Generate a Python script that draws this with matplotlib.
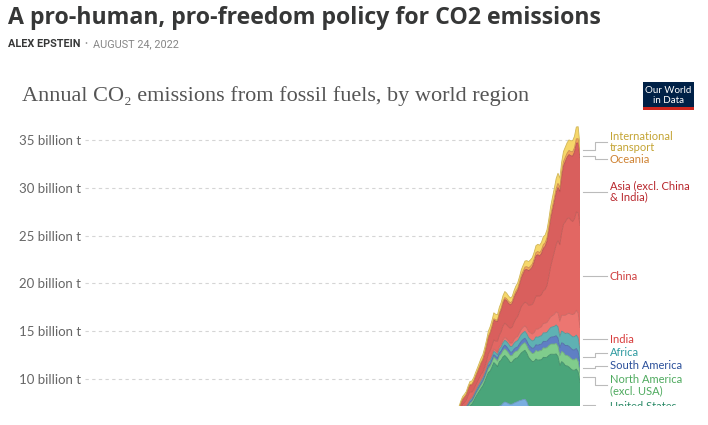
import matplotlib
matplotlib.use("Agg")
import matplotlib.pyplot as plt
import matplotlib.transforms as mtransforms
from matplotlib.patches import Rectangle
from matplotlib.colors import to_rgb

# ---------------- data (billion tonnes CO2, 1950-2020) ----------------
years = list(range(1950, 2021))

europe_excl_eu27 = [
    1.20, 1.28, 1.30, 1.33, 1.40, 1.50, 1.58, 1.64, 1.70, 1.78,
    1.88, 1.95, 2.04, 2.13, 2.22, 2.32, 2.40, 2.48, 2.55, 2.65,
    2.78, 2.87, 2.96, 3.05, 3.10, 3.15, 3.22, 3.28, 3.40, 3.43,
    3.45, 3.50, 3.55, 3.62, 3.68, 3.72, 3.80, 3.88, 3.94, 3.97,
    4.02, 3.82, 3.40, 3.15, 2.85, 2.78, 2.75, 2.62, 2.60, 2.62,
    2.62, 2.65, 2.66, 2.72, 2.73, 2.74, 2.80, 2.80, 2.82, 2.60,
    2.72, 2.78, 2.78, 2.70, 2.66, 2.58, 2.58, 2.58, 2.62, 2.56,
    2.35]
eu27 = [
    1.50, 1.62, 1.65, 1.66, 1.76, 1.90, 2.00, 2.06, 2.05, 2.12,
    2.25, 2.33, 2.46, 2.62, 2.73, 2.80, 2.86, 2.92, 3.10, 3.32,
    3.55, 3.62, 3.74, 3.93, 3.85, 3.73, 3.95, 3.95, 4.05, 4.17,
    4.08, 3.92, 3.80, 3.75, 3.80, 3.85, 3.83, 3.86, 3.84, 3.88,
    3.86, 3.80, 3.68, 3.61, 3.60, 3.65, 3.73, 3.66, 3.67, 3.60,
    3.63, 3.68, 3.67, 3.74, 3.75, 3.72, 3.73, 3.69, 3.61, 3.33,
    3.42, 3.33, 3.26, 3.19, 3.06, 3.10, 3.09, 3.12, 3.04, 2.91,
    2.61]
united_states = [
    2.54, 2.69, 2.65, 2.72, 2.62, 2.85, 2.99, 2.98, 2.90, 3.02,
    3.08, 3.08, 3.18, 3.32, 3.45, 3.58, 3.75, 3.88, 4.05, 4.23,
    4.33, 4.36, 4.55, 4.74, 4.58, 4.41, 4.63, 4.73, 4.86, 4.86,
    4.73, 4.58, 4.37, 4.39, 4.55, 4.59, 4.59, 4.75, 4.95, 5.03,
    5.12, 5.07, 5.17, 5.27, 5.36, 5.42, 5.61, 5.68, 5.73, 5.80,
    6.02, 5.91, 5.95, 6.00, 6.11, 6.13, 6.05, 6.13, 5.91, 5.48,
    5.68, 5.56, 5.36, 5.48, 5.53, 5.38, 5.25, 5.21, 5.38, 5.26,
    4.71]
north_america_excl_usa = [
    0.17, 0.18, 0.19, 0.19, 0.19, 0.21, 0.23, 0.23, 0.23, 0.24,
    0.25, 0.26, 0.27, 0.29, 0.31, 0.33, 0.35, 0.37, 0.40, 0.42,
    0.46, 0.48, 0.52, 0.55, 0.57, 0.58, 0.60, 0.63, 0.66, 0.70,
    0.72, 0.72, 0.71, 0.69, 0.71, 0.73, 0.72, 0.75, 0.79, 0.81,
    0.80, 0.81, 0.82, 0.82, 0.85, 0.86, 0.89, 0.92, 0.95, 0.96,
    0.99, 0.99, 1.00, 1.03, 1.05, 1.07, 1.07, 1.10, 1.09, 1.03,
    1.06, 1.08, 1.09, 1.10, 1.10, 1.10, 1.09, 1.10, 1.12, 1.11,
    1.00]
south_america = [
    0.07, 0.08, 0.08, 0.09, 0.10, 0.10, 0.11, 0.12, 0.13, 0.14,
    0.15, 0.15, 0.16, 0.17, 0.18, 0.18, 0.19, 0.20, 0.21, 0.22,
    0.24, 0.25, 0.26, 0.28, 0.29, 0.30, 0.32, 0.34, 0.36, 0.39,
    0.40, 0.39, 0.38, 0.36, 0.37, 0.39, 0.41, 0.43, 0.44, 0.45,
    0.46, 0.48, 0.49, 0.51, 0.54, 0.57, 0.61, 0.64, 0.66, 0.67,
    0.68, 0.69, 0.68, 0.69, 0.72, 0.75, 0.78, 0.81, 0.85, 0.84,
    0.91, 0.95, 1.00, 1.05, 1.07, 1.06, 1.04, 1.04, 1.03, 1.02,
    0.93]
africa = [
    0.10, 0.10, 0.11, 0.11, 0.12, 0.12, 0.13, 0.13, 0.14, 0.15,
    0.16, 0.17, 0.18, 0.19, 0.20, 0.22, 0.23, 0.24, 0.25, 0.27,
    0.29, 0.31, 0.33, 0.35, 0.36, 0.37, 0.40, 0.43, 0.47, 0.50,
    0.53, 0.56, 0.58, 0.60, 0.62, 0.64, 0.66, 0.67, 0.70, 0.71,
    0.72, 0.74, 0.75, 0.77, 0.78, 0.80, 0.82, 0.84, 0.86, 0.87,
    0.89, 0.91, 0.92, 0.97, 1.02, 1.05, 1.07, 1.12, 1.17, 1.17,
    1.22, 1.20, 1.26, 1.29, 1.32, 1.35, 1.36, 1.38, 1.40, 1.43,
    1.35]
india = [
    0.07, 0.07, 0.07, 0.08, 0.08, 0.08, 0.09, 0.10, 0.10, 0.11,
    0.12, 0.13, 0.14, 0.15, 0.15, 0.17, 0.17, 0.18, 0.19, 0.19,
    0.20, 0.21, 0.22, 0.23, 0.24, 0.26, 0.27, 0.28, 0.29, 0.30,
    0.30, 0.33, 0.35, 0.37, 0.40, 0.43, 0.46, 0.49, 0.53, 0.56,
    0.58, 0.62, 0.66, 0.69, 0.73, 0.77, 0.81, 0.85, 0.88, 0.95,
    0.98, 1.00, 1.03, 1.06, 1.12, 1.18, 1.26, 1.37, 1.47, 1.59,
    1.66, 1.76, 1.91, 1.99, 2.15, 2.21, 2.33, 2.40, 2.59, 2.61,
    2.44]
china = [
    0.08, 0.10, 0.13, 0.13, 0.16, 0.20, 0.23, 0.28, 0.54, 0.73,
    0.78, 0.55, 0.44, 0.44, 0.44, 0.48, 0.53, 0.44, 0.48, 0.58,
    0.77, 0.86, 0.91, 0.95, 0.97, 1.14, 1.18, 1.30, 1.46, 1.49,
    1.47, 1.46, 1.56, 1.64, 1.78, 1.94, 2.06, 2.21, 2.38, 2.42,
    2.48, 2.61, 2.73, 2.91, 3.09, 3.32, 3.46, 3.47, 3.32, 3.36,
    3.41, 3.53, 3.87, 4.50, 5.26, 5.90, 6.53, 7.03, 7.56, 8.00,
    8.62, 9.53, 9.78, 9.96, 9.99, 9.85, 9.73, 9.92, 10.29, 10.49,
    10.67]
asia_excl_china_india = [
    0.33, 0.36, 0.38, 0.40, 0.42, 0.46, 0.50, 0.55, 0.58, 0.63,
    0.70, 0.78, 0.84, 0.91, 0.99, 1.06, 1.14, 1.27, 1.41, 1.54,
    1.72, 1.82, 1.92, 2.08, 2.08, 2.07, 2.18, 2.28, 2.38, 2.48,
    2.50, 2.45, 2.45, 2.48, 2.58, 2.65, 2.72, 2.82, 3.00, 3.18,
    3.38, 3.50, 3.62, 3.76, 3.92, 4.08, 4.22, 4.32, 4.20, 4.30,
    4.45, 4.52, 4.62, 4.78, 4.98, 5.12, 5.25, 5.45, 5.55, 5.55,
    5.90, 6.10, 6.32, 6.45, 6.60, 6.72, 6.85, 7.00, 7.20, 7.30,
    7.10]
oceania = [
    0.04, 0.04, 0.04, 0.04, 0.05, 0.05, 0.05, 0.05, 0.05, 0.06,
    0.06, 0.06, 0.07, 0.07, 0.08, 0.08, 0.09, 0.09, 0.10, 0.11,
    0.11, 0.12, 0.13, 0.14, 0.15, 0.16, 0.17, 0.18, 0.19, 0.21,
    0.22, 0.23, 0.23, 0.23, 0.24, 0.25, 0.25, 0.27, 0.28, 0.29,
    0.30, 0.30, 0.30, 0.31, 0.31, 0.32, 0.33, 0.34, 0.35, 0.37,
    0.38, 0.38, 0.39, 0.39, 0.40, 0.41, 0.42, 0.43, 0.44, 0.44,
    0.44, 0.44, 0.44, 0.43, 0.43, 0.44, 0.45, 0.45, 0.45, 0.45,
    0.42]
international_transport = [
    0.18, 0.19, 0.20, 0.21, 0.22, 0.24, 0.26, 0.27, 0.28, 0.30,
    0.31, 0.33, 0.35, 0.37, 0.39, 0.42, 0.44, 0.47, 0.50, 0.52,
    0.55, 0.57, 0.59, 0.62, 0.58, 0.56, 0.58, 0.60, 0.60, 0.62,
    0.58, 0.55, 0.50, 0.49, 0.50, 0.52, 0.55, 0.56, 0.58, 0.60,
    0.62, 0.63, 0.66, 0.66, 0.67, 0.69, 0.72, 0.75, 0.78, 0.80,
    0.83, 0.80, 0.82, 0.84, 0.90, 0.95, 1.00, 1.04, 1.05, 0.99,
    1.05, 1.07, 1.06, 1.08, 1.10, 1.13, 1.16, 1.20, 1.24, 1.25,
    0.85]

series = [europe_excl_eu27, eu27, united_states, north_america_excl_usa,
          south_america, africa, india, china, asia_excl_china_india,
          oceania, international_transport]
region_labels = ["Europe (excl. EU-27)", "EU-27", "United States",
                 "North America\n(excl. USA)", "South America", "Africa",
                 "India", "China", "Asia (excl. China\n& India)", "Oceania",
                 "International\ntransport"]

y_tick_values = [10, 15, 20, 25, 30, 35]
y_tick_labels = ["10 billion t", "15 billion t", "20 billion t",
                 "25 billion t", "30 billion t", "35 billion t"]

# ---------------- style ----------------
fill_colors = ["#9a86c8", "#7aaee0", "#4aa57a", "#80cc8c", "#5f7fc4",
               "#5fb1b3", "#ec7671", "#e26763", "#d95f5d", "#f0a458",
               "#f6d76a"]
label_colors = ["#6a4fa0", "#3a7bbf", "#2b8a67", "#4eaa5e", "#2a4f9a",
                "#2e9aa0", "#d83c3c", "#cf3f3f", "#b8262c", "#cf8334",
                "#c4a434"]
# label block centres (data units) used for text placement (layout only);
# None = label falls in the cropped-away part of the embed
label_pos = [None, None, 7.12, 9.37, 11.36, 12.72, 14.18, 20.77, 29.61, 33.01, 34.84]

W, H = 708, 425
fig = plt.figure(figsize=(W / 100, H / 100), dpi=100)
fig.patch.set_facecolor("white")

px_per_unit = (379 - 140) / 25.0
y0_px = 379 + 10 * px_per_unit          # pixel row of value 0
ytop = 37.5
ytop_px = 140 - (ytop - 35) * px_per_unit
ax_left, ax_right = 85, 580
ax = fig.add_axes([ax_left / W, (H - y0_px) / H,
                   (ax_right - ax_left) / W, (y0_px - ytop_px) / H])
ax.set_xlim(1750, 2020)
ax.set_ylim(0, ytop)

ax.stackplot(years, *series, colors=fill_colors, linewidth=0, zorder=2)

# thin boundary lines on top of each layer
cum = [0.0] * len(years)
tops = []
for s, c in zip(series, fill_colors):
    cum = [a + b for a, b in zip(cum, s)]
    tops.append(cum)
    r, g, b = to_rgb(c)
    ax.plot(years, cum, color=(r * 0.85, g * 0.85, b * 0.85), lw=0.6, zorder=3)

for sp in ax.spines.values():
    sp.set_visible(False)
ax.set_yticks(y_tick_values)
ax.set_yticklabels(y_tick_labels, fontfamily="Lato", fontsize=9.5, color="#666666")
ax.tick_params(axis="y", length=0, pad=3)
ax.set_xticks([])
ax.yaxis.grid(True, color="#d5d5d5", lw=0.8, linestyle=(0, (3, 3)), zorder=1)
ax.set_axisbelow(True)

# ---------------- labels with connectors ----------------
trans = mtransforms.blended_transform_factory(ax.transAxes, ax.transData)
aw = ax_right - ax_left
xs, xb, xe, xt = 1 + 3 / aw, 1 + 15 / aw, 1 + 27 / aw, 1 + 30 / aw
for i, (top, name) in enumerate(zip(tops, region_labels)):
    ly = label_pos[i]
    if ly is None:
        continue
    base = tops[i - 1][-1] if i > 0 else 0.0
    mid = (base + top[-1]) / 2
    ax.plot([xs, xb, xb, xe], [mid, mid, ly, ly], transform=trans,
            color="#bbbbbb", lw=0.8, clip_on=False, zorder=4)
    ax.text(xt, ly, name, transform=trans, ha="left", va="center",
            fontfamily="Lato", fontsize=8, color=label_colors[i],
            linespacing=1.0, clip_on=False)

# ---------------- header ----------------
fig.text(8 / W, 1 - 23.5 / H, "A pro-human, pro-freedom policy for CO2 emissions",
         fontfamily="Open Sans", fontweight="bold", fontsize=16.7, color="#363737",
         va="baseline", ha="left")
fig.text(8 / W, 1 - 47 / H, "ALEX EPSTEIN", fontfamily="Roboto",
         fontweight="bold", fontsize=7.8, color="#363737", va="baseline")
fig.text(86 / W, 1 - 46.5 / H, "\u2022", fontfamily="Roboto",
         fontsize=6.5, color="#9a9a9a", va="baseline", ha="center")
fig.text(93 / W, 1 - 47 / H, "AUGUST 24, 2022", fontfamily="Roboto",
         fontsize=7.8, color="#868686", va="baseline")

fig.text(22 / W, 1 - 100.5 / H,
         "Annual CO\u2082 emissions from fossil fuels, by world region",
         fontfamily=["Liberation Serif", "DejaVu Serif"], fontsize=16,
         color="#555555", va="baseline", ha="left")

# Our World in Data logo
fig.add_artist(Rectangle((643 / W, 1 - 110 / H), 51 / W, 28 / H,
                         transform=fig.transFigure, color="#002147", lw=0))
fig.add_artist(Rectangle((643 / W, 1 - 110 / H), 51 / W, 3 / H,
                         transform=fig.transFigure, color="#ce261e", lw=0))
fig.text(668.5 / W, 1 - 90.5 / H, "Our World", fontfamily="Lato", fontsize=7,
         color="white", ha="center", va="center")
fig.text(668.5 / W, 1 - 100.5 / H, "in Data", fontfamily="Lato", fontsize=7,
         color="white", ha="center", va="center")

# cropped bottom of the embedded chart
fig.add_artist(Rectangle((0, 0), 1, (H - 406) / H, transform=fig.transFigure,
                         color="white", lw=0, zorder=100))

fig.savefig("out.png", dpi=100, facecolor="white")
